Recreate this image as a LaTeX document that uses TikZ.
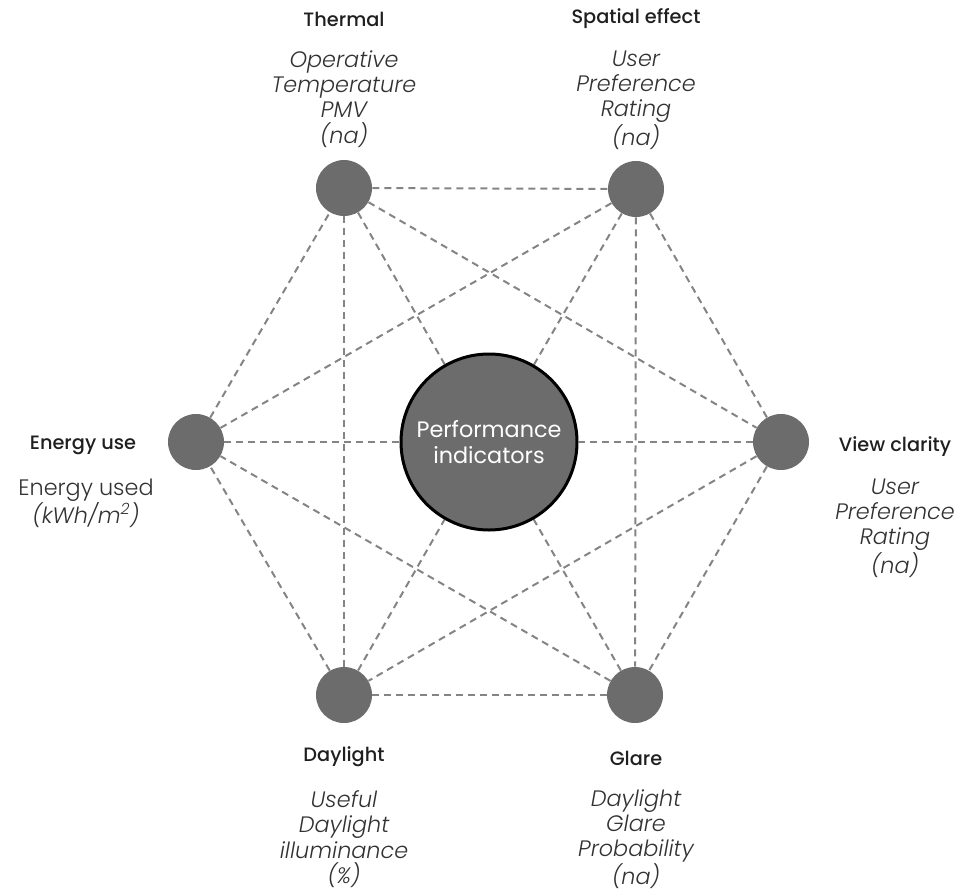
\documentclass[tikz,border=0pt]{standalone}
\usepackage{fontspec}
\setmainfont{Poppins}[UprightFont=* Light, ItalicFont=* Light Italic, BoldFont=* Medium]
\newfontfamily\hubfont{Poppins}
\usetikzlibrary{backgrounds}

\definecolor{dotgray}{RGB}{108,108,108}
\definecolor{linkgray}{RGB}{132,132,132}
\definecolor{textgray}{RGB}{50,50,50}

\tikzset{
  crit/.style={circle, fill=dotgray, minimum size=42pt, inner sep=0pt},
  hub/.style={circle, fill=dotgray, draw=black, line width=2.25pt, minimum size=132pt,
    inner sep=0pt, align=center, text=white, font=\hubfont\fontsize{16.75}{20}\selectfont},
  link/.style={linkgray, line width=1.5pt, dash pattern=on 5.25pt off 3.75pt},
  head/.style={font=\fontsize{14.5}{17}\selectfont\bfseries, text=black!88},
  metric/.style={align=center, text=textgray, font=\fontsize{16.75}{19}\selectfont\itshape},
}

\begin{document}
\begin{tikzpicture}[x=0.75pt,y=-0.75pt]
\useasboundingbox (0,0) rectangle (969,895);

% criteria around the hexagon
\node[crit] (th) at (344,188) {};
\node[crit] (sp) at (636,189) {};
\node[crit] (vc) at (781,442) {};
\node[crit] (gl) at (635,695) {};
\node[crit] (dl) at (344,695) {};
\node[crit] (en) at (196,442) {};

% hub in the middle
\node[hub] (pi) at (489,442) {Performance\\indicators};

% sides and short diagonals, then a spoke from each criterion to the hub
\begin{scope}[on background layer]
\foreach \a/\b in {th/sp, sp/vc, vc/gl, gl/dl, dl/en, en/th,
                   th/vc, th/dl, sp/gl, sp/en, vc/dl, gl/en}
  \draw[link] (\a) -- (\b);
\foreach \a in {th, sp, vc, gl, dl, en}
  \draw[link] (\a) -- (pi);
\end{scope}

% headings
\node[head] (thHead) at (344,19) {Thermal};
\node[head] (spHead) at (636,19) {Spatial effect};
\node[head] (enHead) at (83,445) {Energy use};
\node[head] (vcHead) at (895,447) {View clarity};
\node[head] (dlHead) at (344,757) {Daylight};
\node[head] (glHead) at (636,758) {Glare};

% metrics and units
\node[metric] (thText) at (344,99) {Operative\\Temperature\\PMV\\(na)};
\node[metric] (spText) at (636,100) {User\\Preference\\Rating\\(na)};
\node[metric] (enText) at (86,503) {\upshape Energy used\\(kWh/m\textsuperscript{2})};
\node[metric] (vcText) at (895,528) {User\\Preference\\Rating\\(na)};
\node[metric] (dlText) at (344,839) {Useful\\Daylight\\illuminance\\(\%)};
\node[metric] (glText) at (636,839) {Daylight\\Glare\\Probability\\(na)};
\end{tikzpicture}
\end{document}
